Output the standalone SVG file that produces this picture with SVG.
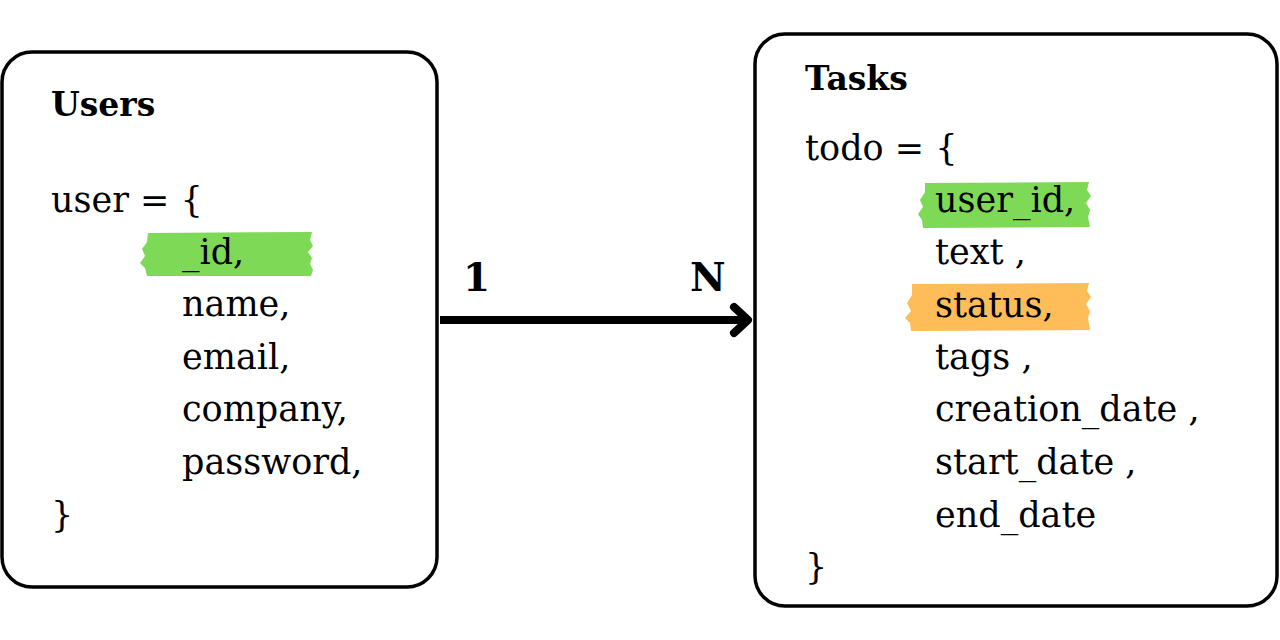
<svg xmlns="http://www.w3.org/2000/svg" width="1280" height="640" viewBox="0 0 1280 640">
<style>
.box{fill:#fff;stroke:#000;stroke-width:3.5}
.t{font-family:"DejaVu Serif","Liberation Serif",serif;font-size:35px;fill:#000}
.b{font-family:"DejaVu Serif","Liberation Serif",serif;font-size:33px;font-weight:bold;fill:#000}
.g{fill:#7ed957}
.o{fill:#ffbd59}
</style>
<defs>
<marker id="chev" markerWidth="30" markerHeight="44" refX="0" refY="0" orient="auto" markerUnits="userSpaceOnUse" viewBox="-24 -22 30 44">
<path d="M-14,-13 L0,0 L-14,13" fill="none" stroke="#000" stroke-width="8" stroke-linecap="round" stroke-linejoin="round"/>
</marker>
</defs>
<rect width="1280" height="640" fill="#fff"/>
<g id="users">
<rect class="box" x="2" y="52" width="435" height="535" rx="30"/>
<path class="g" d="M148,233 L312,232 L310,240 L313,246 L308,252 L312,258 L310,264 L313,270 L311,276 L147,276 L145,268 L140,263 L145,256 L142,249 L147,242 Z"/>
<text class="b" x="51" y="116">Users</text>
<text class="t" x="51" y="212">user = {</text>
<text class="t" x="182" y="264">_id,</text>
<text class="t" x="182" y="316">name,</text>
<text class="t" x="182" y="369">email,</text>
<text class="t" x="182" y="421">company,</text>
<text class="t" x="182" y="474">password,</text>
<text class="t" x="51" y="527">}</text>
</g>
<g id="tasks">
<rect class="box" x="755" y="34" width="522" height="572" rx="30"/>
<path class="g" d="M925,183 L1089,182 L1087,190 L1091,196 L1086,203 L1090,210 L1088,217 L1090,227 L923,228 L922,220 L918,214 L923,207 L920,200 L925,192 Z"/>
<path class="o" d="M912,284 L1089,283 L1087,291 L1091,297 L1086,304 L1090,311 L1088,318 L1090,330 L911,331 L910,323 L905,318 L911,311 L907,303 L912,295 Z"/>
<text class="b" x="805" y="90">Tasks</text>
<text class="t" x="805" y="160">todo = {</text>
<text class="t" x="935" y="212">user_id,</text>
<text class="t" x="935" y="264">text ,</text>
<text class="t" x="935" y="317">status,</text>
<text class="t" x="935" y="369">tags ,</text>
<text class="t" x="935" y="421">creation_date ,</text>
<text class="t" x="935" y="474">start_date ,</text>
<text class="t" x="935" y="527">end_date</text>
<text class="t" x="805" y="579">}</text>
</g>
<g id="connectors">
<line x1="440" y1="320" x2="748" y2="320" stroke="#000" stroke-width="8" marker-end="url(#chev)"/>
<text class="b" x="463" y="291" style="font-size:39px">1</text>
<text class="b" x="690" y="291" style="font-size:39px">N</text>
</g>
</svg>
